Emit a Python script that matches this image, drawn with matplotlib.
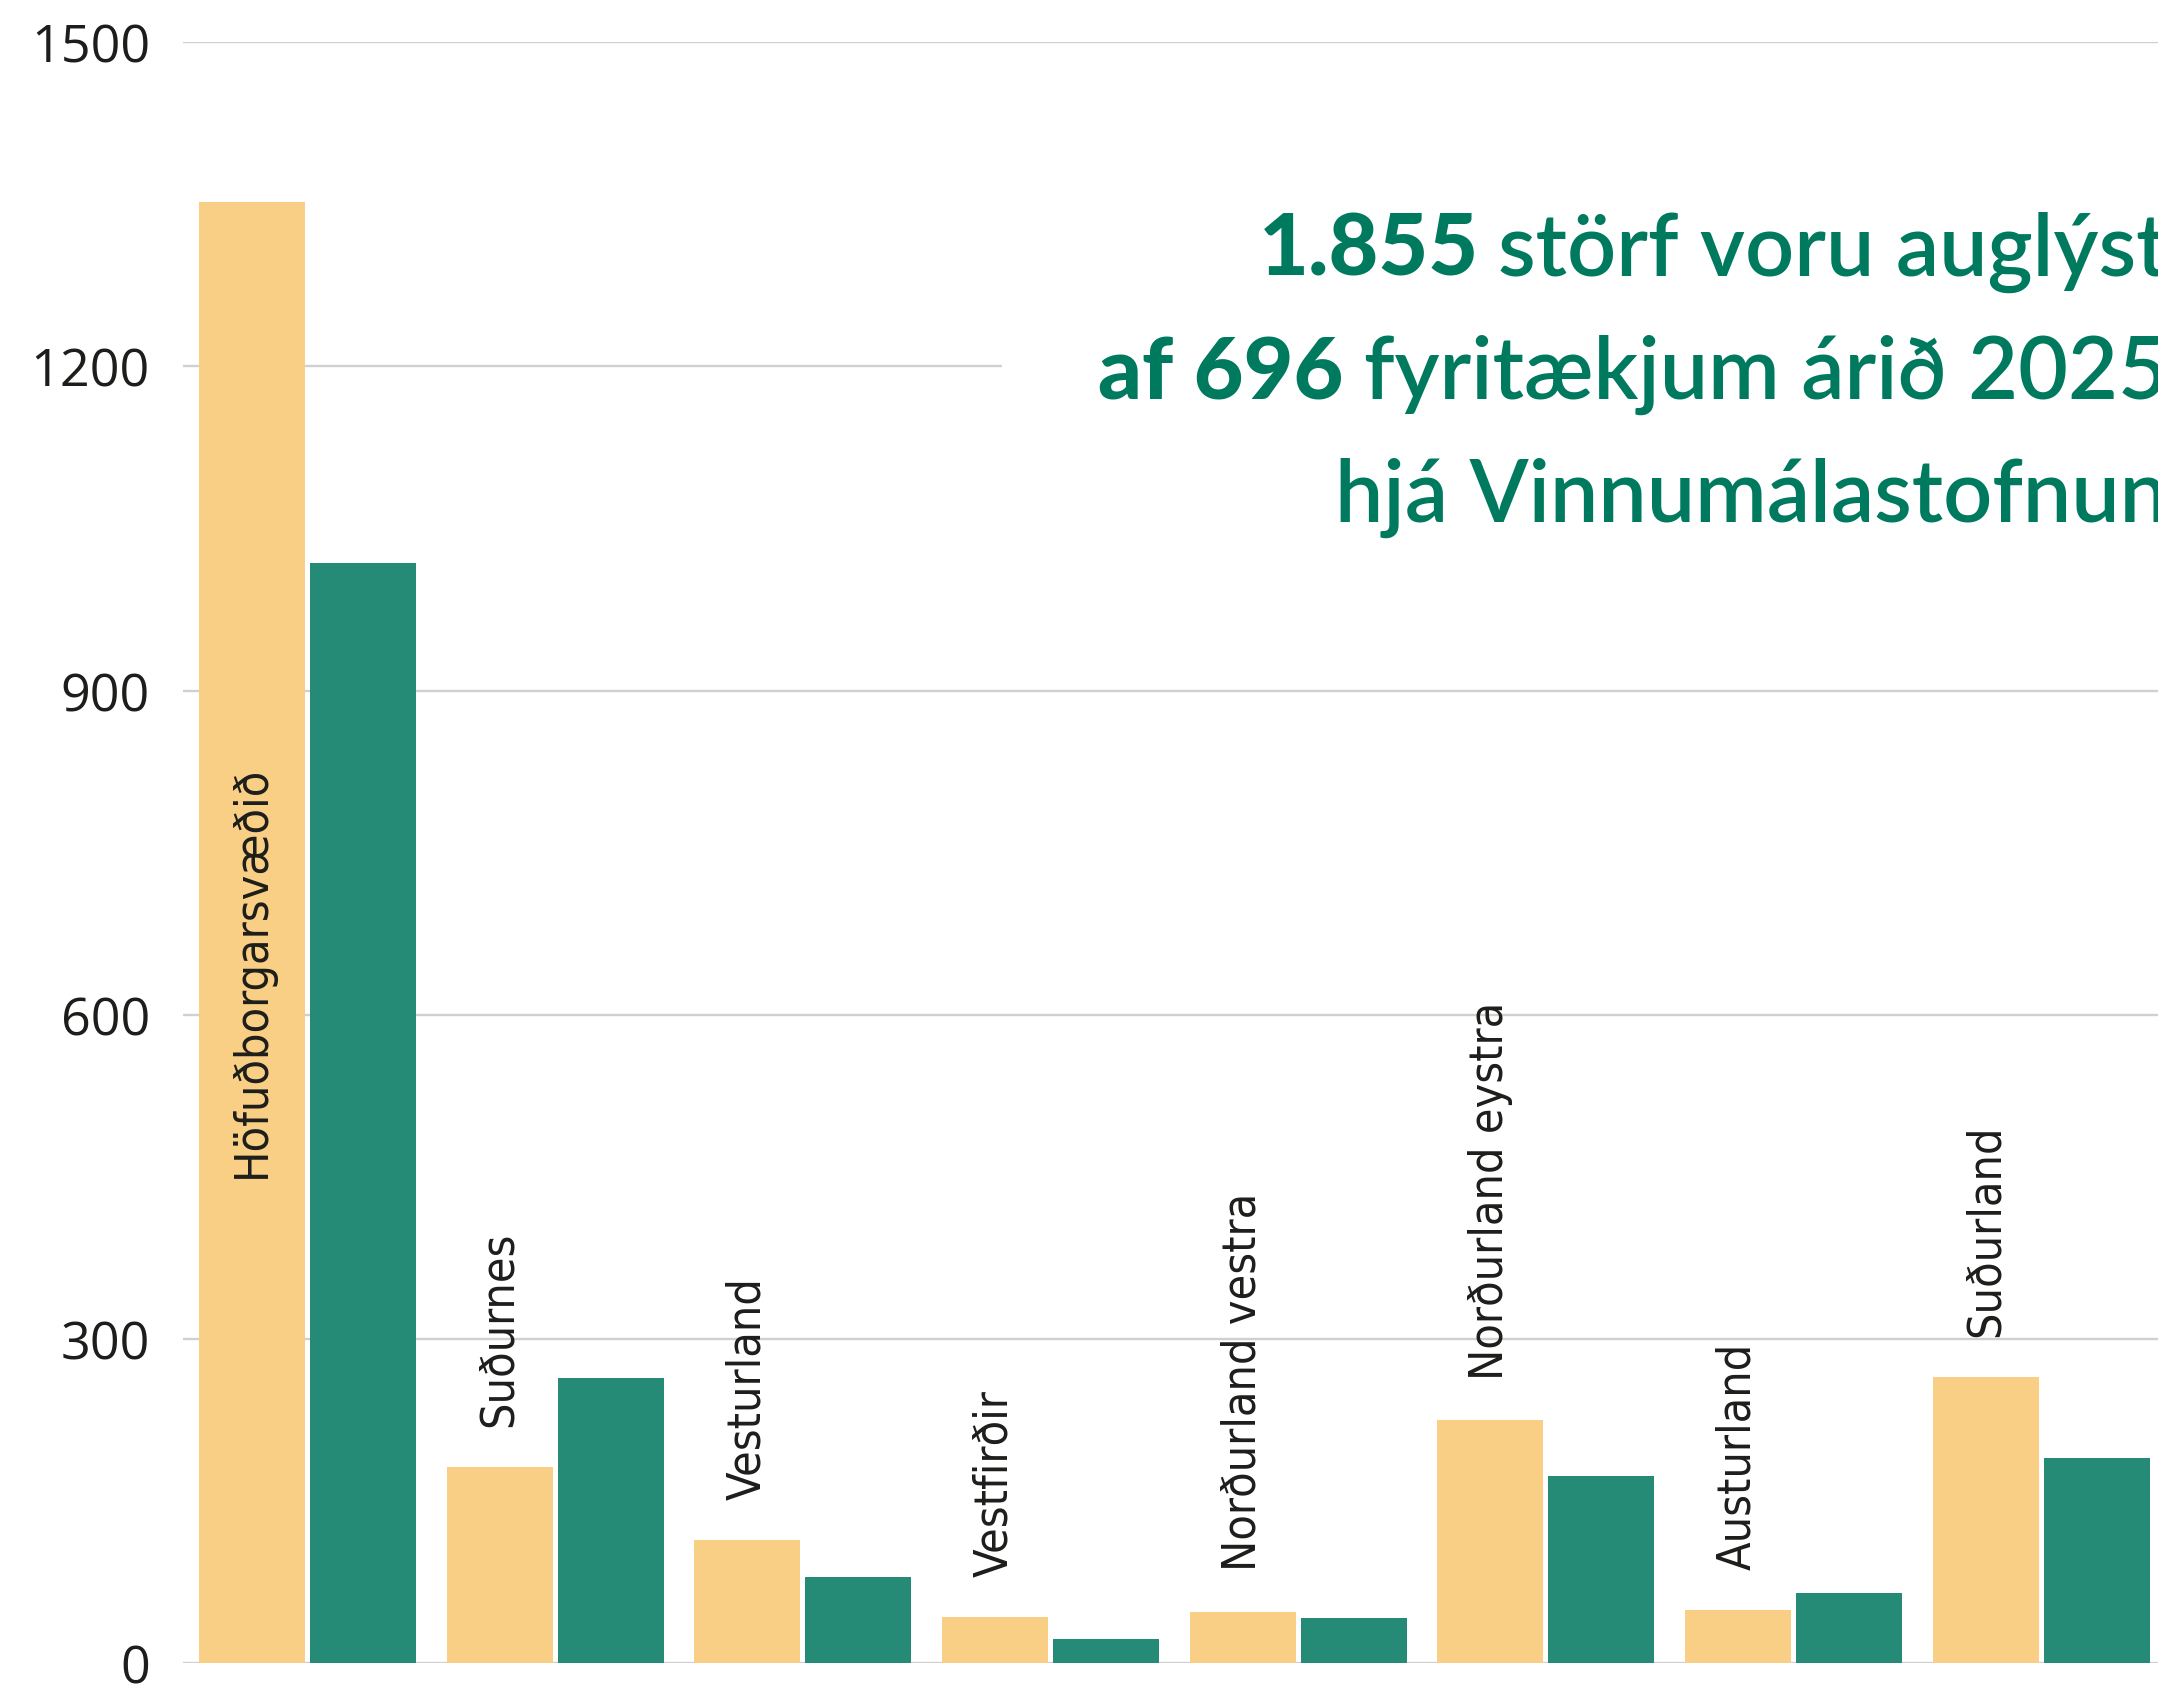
import matplotlib
matplotlib.use("Agg")
import matplotlib.pyplot as plt
from matplotlib import font_manager
from matplotlib.font_manager import FontProperties
from matplotlib.patches import Rectangle
import numpy as np

# Data
regions = ["Höfuðborgarsvæðið", "Suðurnes", "Vesturland", "Vestfirðir",
           "Norðurland vestra", "Norðurland eystra", "Austurland", "Suðurland"]
yellow_vals = [1352, 182, 114, 43, 48, 225, 49, 265]
green_vals = [1018, 264, 80, 23, 42, 173, 65, 190]
yticks = [0, 300, 600, 900, 1200, 1500]
title_lines = [
    [("1.855", "black"), ("störf voru auglýst", "semibold")],
    [("af 696", "black"), ("fyritækjum árið 2025", "semibold")],
    [("hjá Vinnumálastofnun", "semibold")],
]

YELLOW = "#f9cf86"
GREEN = "#258b76"
TITLE_GREEN = "#007a5e"
DARK = "#1d1d1b"

WEIGHTS = {"thin": 100, "extralight": 200, "light": 300, "normal": 400, "regular": 400,
           "book": 400, "medium": 500, "semibold": 600, "demibold": 600, "bold": 700,
           "heavy": 800, "extra bold": 800, "black": 900}


def wnum(w):
    return w if isinstance(w, int) else WEIGHTS.get(str(w).lower(), 400)


# the reference names are in a narrow regular face; look for one, else Open Sans
def label_font_file():
    best = None
    for f in font_manager.fontManager.ttflist:
        narrow = f.stretch in ("condensed", "semi-condensed", "extra-condensed") or \
            "Condensed" in f.name or "Narrow" in f.name
        if not narrow or f.style != "normal" or not (300 <= wnum(f.weight) <= 500):
            continue
        score = abs(wnum(f.weight) - 400)
        if best is None or score < best[0]:
            best = (score, f.fname)
    if best:
        return best[1]
    return font_manager.findfont(FontProperties(family="Open Sans"))


label_path = label_font_file()

W, H = 2158, 1690
fig = plt.figure(figsize=(W / 100, H / 100), dpi=100)
fig.patch.set_facecolor("white")

# axes placed in pixel terms of the reference
left, right, bottom, top = 183, W, 1664.4, 43
ax = fig.add_axes([left / W, (H - bottom) / H, (right - left) / W, (bottom - top) / H])

x = np.arange(len(regions))
off, bw = 0.224, 0.428
ax.bar(x - off, yellow_vals, width=bw, color=YELLOW, zorder=2)
ax.bar(x + off, green_vals, width=bw, color=GREEN, zorder=2)

ax.set_xlim(-0.5026, 7.471)
ax.set_ylim(0, 1500)
ax.set_yticks(yticks)
ax.set_yticklabels([str(t) for t in yticks], family="Open Sans", fontsize=37.5, color=DARK)
ax.set_xticks([])
ax.tick_params(axis="y", length=0, pad=23.8)
ax.yaxis.grid(True, color="#d0d0d0", linewidth=1.7)
ax.set_axisbelow(True)
for s in ax.spines.values():
    s.set_visible(False)
ax.patch.set_alpha(0)

fig.canvas.draw()
r = fig.canvas.get_renderer()

# size the names so the longest one is as long as in the reference (~411 px)
probe = fig.text(0, 0, regions[0], rotation=90, fontproperties=FontProperties(fname=label_path, size=40))
plen = probe.get_window_extent(renderer=r).height
probe.remove()
label_size = min(42, 40 * 411 / plen)
lp = FontProperties(fname=label_path, size=label_size)

# region names, rotated, sitting on top of the yellow bar (first one inside it)
for i, (name, val) in enumerate(zip(regions, yellow_vals)):
    ypos = 450 if i == 0 else val + 38
    ax.text(i - off, ypos, name, rotation=90, ha="center", va="bottom",
            fontproperties=lp, color=DARK, zorder=3)

# white box behind the headline (breaks the 1200 gridline)
fig.patches.append(Rectangle((1002 / W, 1 - 600 / H), 1 - 1002 / W, 450 / H,
                             transform=fig.transFigure, facecolor="white",
                             edgecolor="none", zorder=1))

# headline, right aligned, runs past the right edge like the reference
x_right = 2168
baselines = [276, 399, 522]
for parts, yb in zip(title_lines, baselines):
    xx = x_right
    for txt, weight in reversed(parts):
        t = fig.text(xx / W, 1 - yb / H, txt, ha="right", va="baseline",
                     family="Lato", fontsize=62, fontweight=weight,
                     color=TITLE_GREEN, zorder=5)
        bb = t.get_window_extent(renderer=r)
        xx = bb.x0 - 20

fig.savefig("out.png", dpi=100, facecolor="white")
